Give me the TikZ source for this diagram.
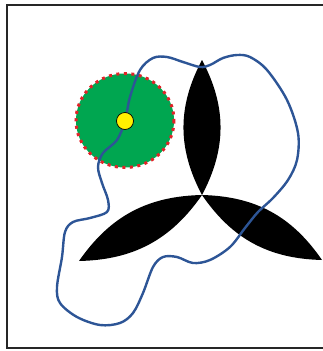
\documentclass[tikz,border=0pt]{standalone}
\usepackage{tikz}
\definecolor{zonegreen}{RGB}{0,166,80}
\definecolor{zonered}{RGB}{225,35,40}
\definecolor{routeblue}{RGB}{45,85,150}
\definecolor{probeyellow}{RGB}{255,240,0}

\begin{document}
\begin{tikzpicture}[x=1pt,y=-1pt,
petal/.style={fill=black},
zone/.style={fill=zonegreen,draw=zonered,line width=3pt,dash pattern=on 3pt off 4.5pt},
route/.style={draw=routeblue,line width=2.4pt},
probe/.style={circle,draw=black,line width=0.7pt,fill=probeyellow,minimum size=17pt,inner sep=0pt}]
\useasboundingbox (0,0) rectangle (323,351);
\draw[line width=1.3pt,black!85] (7,5) rectangle (326,348);
% propeller
\coordinate (hub) at (202,195);
\coordinate (tipT) at (202,60);
\coordinate (tipL) at (79,261);
\coordinate (tipR) at (322,260);
\fill[petal] (hub) to[bend left=28] (tipT) to[bend left=28] (hub);
\fill[petal] (hub) to[bend left=27] (tipL) to[bend left=27] (hub);
\fill[petal] (hub) to[bend left=27] (tipR) to[bend left=27] (hub);
% zone and path
\fill[zone] (125,120.5) ellipse [x radius=49, y radius=47];
\draw[route] plot[smooth cycle,tension=0.55] coordinates {
(125,121) (130,97) (140,70) (153,58) (167,57) (183,62) (200,67) (210,65)
(223,58) (237,55) (250,57) (267,70) (287,100) (298,133) (297,160) (288,180)
(273,198) (258,212) (245,228) (230,247) (210,260) (193,263) (177,257) (163,257)
(153,267) (143,293) (133,313) (120,323) (100,325) (77,317) (60,303) (57,287)
(62,257) (65,232) (73,222) (90,218) (107,212) (108,200) (102,183) (98,167)
(103,153) (117,140)};
\node[probe] (dot) at (125,121) {};
\end{tikzpicture}
\end{document}
